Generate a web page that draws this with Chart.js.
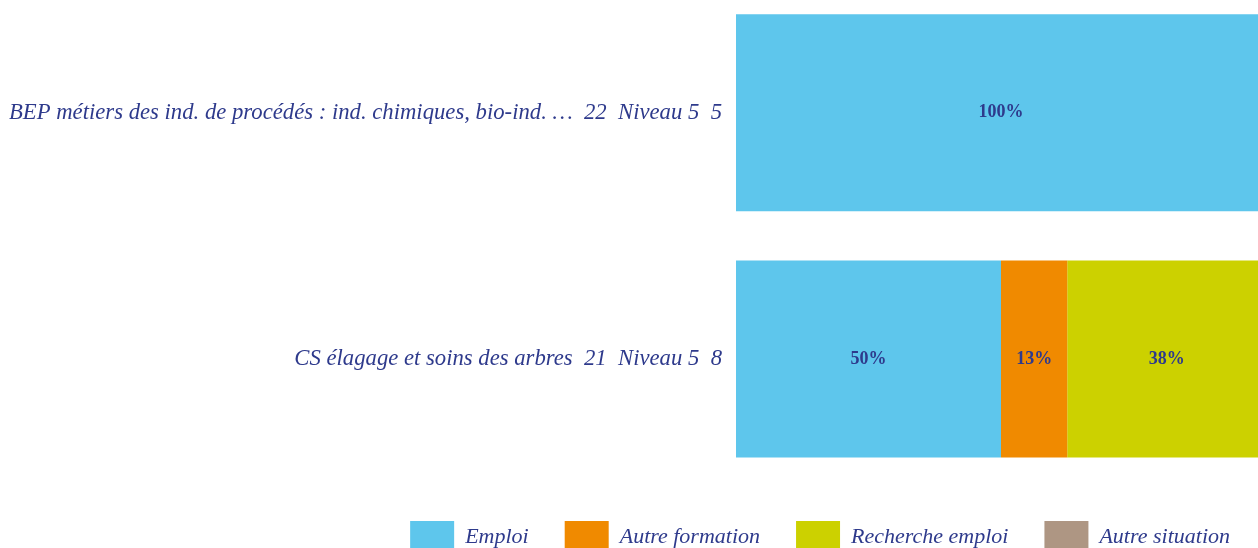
<!DOCTYPE html>
<html>
<head>
<meta charset="utf-8">
<script src="https://cdn.jsdelivr.net/npm/chart.js@4/dist/chart.umd.min.js"></script>
<style>
  html, body { margin: 0; padding: 0; background: #fff; }
  #wrap { position: relative; width: 1258px; height: 548px; overflow: hidden; }
  #chart { position: absolute; left: 0; top: -38px; }
</style>
</head>
<body>
<div id="wrap"><canvas id="chart" width="1266" height="601"></canvas></div>
<script>
// data
const categories = [
  'BEP métiers des ind. de procédés : ind. chimiques, bio-ind. …  22  Niveau 5  5',
  'CS élagage et soins des arbres  21  Niveau 5  8'
];
const emploi = [100, 50];
const autreFormation = [0, 12.5];
const rechercheEmploi = [0, 37.5];
const autreSituation = [0, 0];

const seriesNames = ['Emploi', 'Autre formation', 'Recherche emploi', 'Autre situation'];
const colors = ['#5EC6EC', '#F08A00', '#CCD100', '#AE9683'];
const textColor = '#2E3A8C';
const fontFamily = '"Liberation Serif", "Times New Roman", serif';

// percent labels in the middle of each segment
const segLabels = {
  id: 'segLabels',
  afterDatasetsDraw(chart) {
    const ctx = chart.ctx;
    ctx.save();
    ctx.font = 'bold 18px ' + fontFamily;
    ctx.fillStyle = textColor;
    ctx.textAlign = 'center';
    ctx.textBaseline = 'middle';
    chart.data.datasets.forEach((ds, i) => {
      chart.getDatasetMeta(i).data.forEach((bar, j) => {
        const v = ds.data[j];
        if (!v) return;
        const p = bar.getCenterPoint();
        ctx.fillText(Math.round(v) + '%', p.x, p.y);
      });
    });
    ctx.restore();
  }
};

const values = [emploi, autreFormation, rechercheEmploi, autreSituation];

new Chart(document.getElementById('chart'), {
  type: 'bar',
  data: {
    labels: categories,
    datasets: values.map((d, i) => ({
      label: seriesNames[i],
      data: d,
      backgroundColor: colors[i],
      borderWidth: 0,
      categoryPercentage: 0.8,
      barPercentage: 1
    }))
  },
  options: {
    indexAxis: 'y',
    responsive: false,
    animation: false,
    layout: { padding: 0, autoPadding: false },
    scales: {
      x: {
        stacked: true,
        min: 0,
        max: 100,
        ticks: { display: false },
        grid: { display: false },
        border: { display: false },
        afterFit(scale) { scale.height = 3; }
      },
      y: {
        stacked: true,
        ticks: {
          color: textColor,
          padding: 14,
          font: { family: fontFamily, size: 22.7, style: 'italic' }
        },
        grid: { display: false, drawTicks: false },
        border: { display: false },
        afterFit(scale) { scale.width = 736; }
      }
    },
    plugins: {
      legend: {
        position: 'bottom',
        align: 'end',
        labels: {
          boxWidth: 44,
          boxHeight: 32,
          padding: 36,
          color: textColor,
          font: { family: fontFamily, size: 22, style: 'italic' }
        }
      },
      tooltip: { enabled: false }
    }
  },
  plugins: [segLabels]
});
</script>
</body>
</html>
